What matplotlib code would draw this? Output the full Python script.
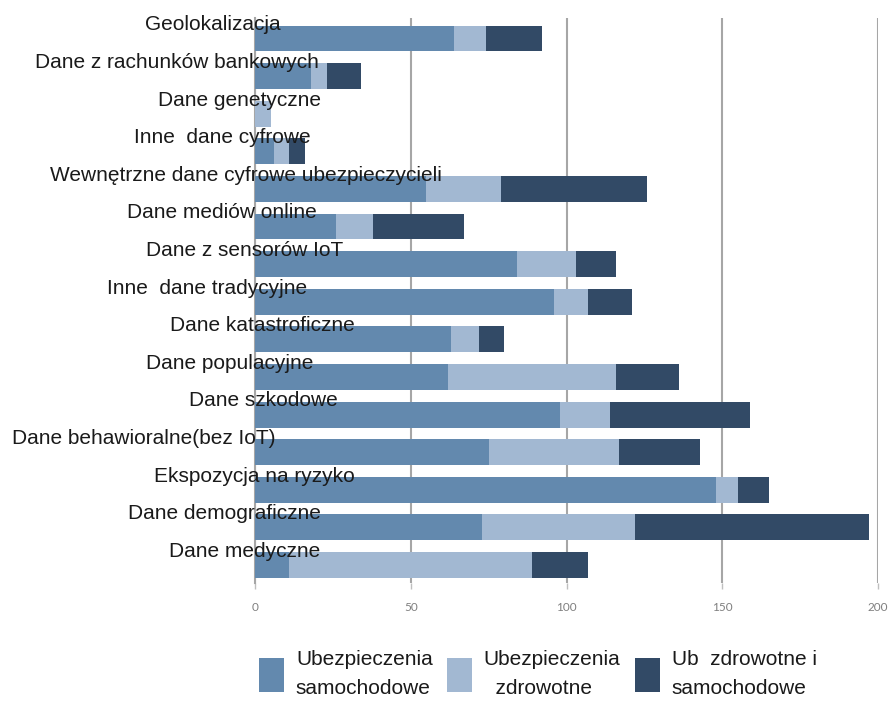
import numpy as np
import matplotlib
matplotlib.use('Agg')
import matplotlib.pyplot as plt
from matplotlib.patches import Patch
from matplotlib.transforms import blended_transform_factory

plt.rcParams['font.family'] = ['Liberation Sans', 'DejaVu Sans']

# Kategorie danych (od góry do dołu)
kategorie = ['Geolokalizacja', 'Dane z rachunków bankowych', 'Dane genetyczne',
             'Inne  dane cyfrowe', 'Wewnętrzne dane cyfrowe ubezpieczycieli',
             'Dane mediów online', 'Dane z sensorów IoT', 'Inne  dane tradycyjne',
             'Dane katastroficzne', 'Dane populacyjne', 'Dane szkodowe',
             'Dane behawioralne(bez IoT)', 'Ekspozycja na ryzyko',
             'Dane demograficzne', 'Dane medyczne']

# Wartości serii
samochodowe = [64, 18, 0, 6, 55, 26, 84, 96, 63, 62, 98, 75, 148, 73, 11]
zdrowotne = [10, 5, 5, 5, 24, 12, 19, 11, 9, 54, 16, 42, 7, 49, 78]
oba = [18, 11, 0, 5, 47, 29, 13, 14, 8, 20, 45, 26, 10, 75, 18]

nazwy_serii = ['Ubezpieczenia\nsamochodowe', 'Ubezpieczenia\n  zdrowotne',
               'Ub  zdrowotne i\nsamochodowe']
kolory = ['#6389ae', '#a2b8d2', '#324a66']

x_ticks = [0, 50, 100, 150, 200]

# Lewe krawędzie etykiet w pikselach
etykiety_x = [145, 35, 158, 134, 50, 127, 146, 107, 170, 146, 189, 12, 154, 128, 169]

fig = plt.figure(figsize=(8.92, 7.01), dpi=100)
ax = fig.add_axes([255 / 892, 1 - 583 / 701, 623 / 892, (583 - 18) / 701])

y = np.arange(len(kategorie))
s1 = np.array(samochodowe)
s2 = np.array(zdrowotne)
s3 = np.array(oba)

ax.barh(y, s1, height=0.69, color=kolory[0], zorder=3)
ax.barh(y, s2, left=s1, height=0.69, color=kolory[1], zorder=3)
ax.barh(y, s3, left=s1 + s2, height=0.69, color=kolory[2], zorder=3)

ax.set_xlim(0, 200)
ax.set_ylim(len(kategorie) - 0.52, -0.545)
ax.set_xticks(x_ticks)
ax.set_xticklabels([str(t) for t in x_ticks], fontsize=8.5, color='#7f7f7f',
                   family=['Lato', 'DejaVu Sans'])
ax.tick_params(axis='x', length=4, width=1, color='#bfbfbf', pad=10)
ax.set_yticks([])
ax.grid(axis='x', color='#a6a6a6', linewidth=1.5, zorder=0)
for s in ['top', 'right', 'bottom']:
    ax.spines[s].set_visible(False)
ax.spines['left'].set_color('#a6a6a6')
ax.spines['left'].set_linewidth(1.5)

# Etykiety kategorii nad słupkami
tr = blended_transform_factory(fig.transFigure, ax.transData)
for i, (lab, lx) in enumerate(zip(kategorie, etykiety_x)):
    ax.text(lx / 892, i - 0.36, lab, transform=tr, ha='left', va='center',
            fontsize=15, color='#1a1a1a', zorder=5, clip_on=False)

uchwyty = [Patch(facecolor=c) for c in kolory]
leg = fig.legend(uchwyty, nazwy_serii, loc='center', bbox_to_anchor=(538 / 892, 1 - 674 / 701),
                 ncol=3, frameon=False, fontsize=15, handlelength=1.2, handleheight=2.1,
                 handletextpad=0.55, columnspacing=0.7, labelcolor='#1a1a1a')
for t in leg.get_texts():
    t.set_linespacing(1.7)

fig.savefig('out.png', dpi=100)
